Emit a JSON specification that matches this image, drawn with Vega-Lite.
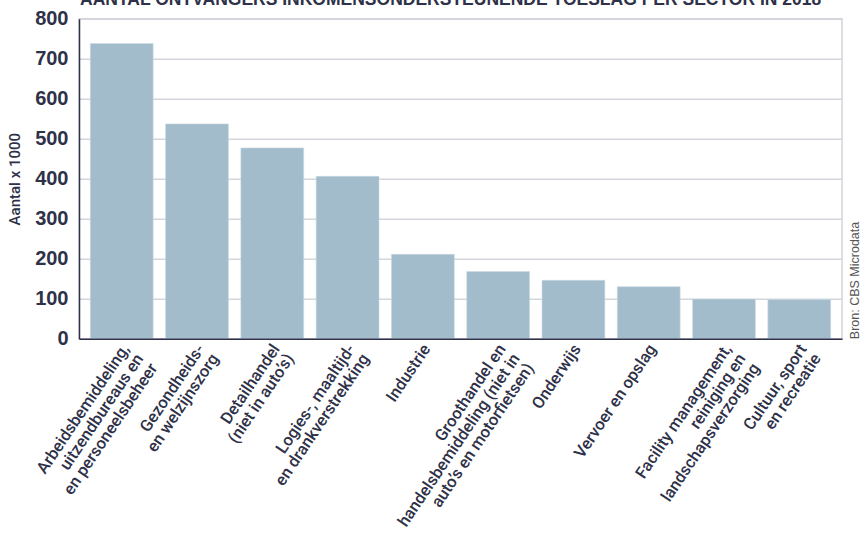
{
  "$schema": "https://vega.github.io/schema/vega-lite/v6.json",
  "autosize": {"type": "none"},
  "width": 763,
  "height": 320,
  "padding": {"left": 79, "top": 18.7, "right": 21, "bottom": 201.3},
  "background": "white",
  "title": {
    "text": "AANTAL ONTVANGERS INKOMENSONDERSTEUNENDE TOESLAG PER SECTOR IN 2018",
    "anchor": "start",
    "frame": "group",
    "font": "Liberation Sans",
    "fontSize": 17.5,
    "fontWeight": "bold",
    "color": "#2e3148",
    "baseline": "alphabetic",
    "offset": -14,
    "dx": 1
  },
  "data": {
    "values": [
      {"sector": "Arbeidsbemiddeling,\nuitzendbureaus en\nen personeelsbeheer", "aantal": 738},
      {"sector": "Gezondheids-\nen welzijnszorg", "aantal": 537},
      {"sector": "Detailhandel\n(niet in auto’s)", "aantal": 477},
      {"sector": "Logies-, maaltijd-\nen drankverstrekking", "aantal": 406},
      {"sector": "Industrie", "aantal": 211},
      {"sector": "Groothandel en\nhandelsbemiddeling (niet in\nauto’s en motorfietsen)", "aantal": 168},
      {"sector": "Onderwijs", "aantal": 146},
      {"sector": "Vervoer en opslag", "aantal": 130},
      {"sector": "Facility management,\nreiniging en\nlandschapsverzorging", "aantal": 99},
      {"sector": "Cultuur, sport\nen recreatie", "aantal": 98}
    ]
  },
  "encoding": {
    "x": {
      "field": "sector",
      "type": "nominal",
      "sort": null,
      "scale": {"paddingInner": 0.165, "paddingOuter": 0.15},
      "axis": {
        "title": null,
        "labelExpr": "split(datum.label, '\\n')",
        "labelAngle": -56,
        "labelAlign": "right",
        "labelBaseline": "middle",
        "labelFont": "Roboto, Liberation Sans",
        "labelFontWeight": 500,
        "labelFontSize": 16.5,
        "labelLineHeight": 17,
        "labelColor": "#2e3148",
        "labelPadding": 7,
        "labelOffset": 4,
        "labelLimit": 400,
        "labelOverlap": false,
        "ticks": false,
        "domainColor": "#2e3148",
        "domainWidth": 1.5,
        "zindex": 1
      }
    }
  },
  "layer": [
    {
      "mark": {"type": "bar", "color": "#a2bccb", "stroke": "#cbdbe4", "strokeWidth": 0.6},
      "encoding": {
        "y": {
          "field": "aantal",
          "type": "quantitative",
          "scale": {"domain": [0, 800]},
          "axis": {
            "title": "Aantal x 1000",
            "titleFont": "Roboto, Liberation Sans",
            "titleFontWeight": 500,
            "titleFontSize": 15,
            "titleColor": "#2e3148",
            "titlePadding": 12,
            "values": [0, 100, 200, 300, 400, 500, 600, 700, 800],
            "labelFont": "Liberation Sans",
            "labelFontWeight": "bold",
            "labelFontSize": 20,
            "labelColor": "#2e3148",
            "labelPadding": 11,
            "ticks": false,
            "domainColor": "#2e3148",
            "domainWidth": 1.5,
            "grid": true,
            "gridColor": "#d4d5dd",
            "gridWidth": 1.5
          }
        }
      }
    },
    {
      "mark": {"type": "bar", "opacity": 0},
      "encoding": {
        "y": {
          "field": "aantal",
          "type": "quantitative",
          "scale": {"domain": [0, 800]},
          "axis": {
            "orient": "right",
            "title": "Bron: CBS Microdata",
            "titleAngle": 270,
            "titleAnchor": "start",
            "titleAlign": "left",
            "titleBaseline": "top",
            "titleFont": "Liberation Sans",
            "titleFontWeight": "normal",
            "titleFontSize": 12.5,
            "titleColor": "#555555",
            "titlePadding": 6,
            "labels": false,
            "ticks": false,
            "domain": false,
            "grid": false
          }
        }
      }
    }
  ],
  "resolve": {"axis": {"y": "independent"}},
  "config": {
    "view": {"stroke": "#d4d5dd", "strokeWidth": 1.5}
  }
}
